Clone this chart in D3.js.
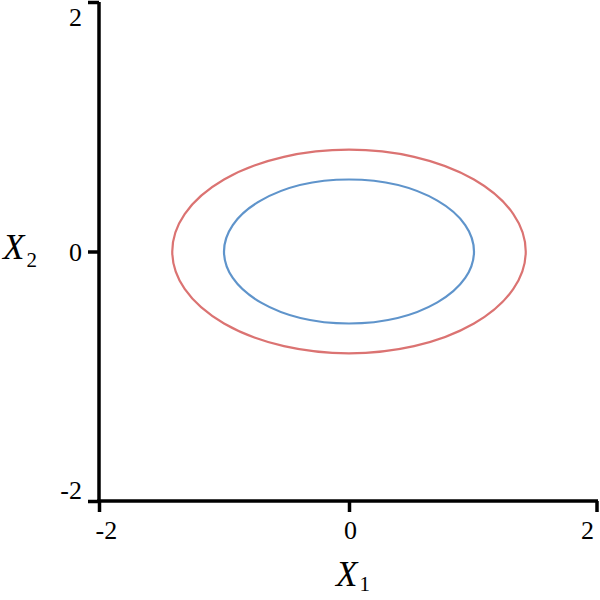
<!DOCTYPE html>
<html>
<head>
<meta charset="utf-8">
<script src="https://cdn.jsdelivr.net/npm/d3@7"></script>
<style>
  body { margin: 0; background: #fff; }
  .axis path, .axis line { stroke: #000; stroke-width: 3.5; }
</style>
</head>
<body>
<div id="chart"></div>
<script>
// contour levels of x1^2 + 3*x2^2 = c, given as the ellipse semi-axes
var levels = [1, 2];
var semiX = [1.0, 1.414];
var semiY = [0.577, 0.816];
var colors = ["#5f94cb", "#db7372"];
var xTicks = [-2, 0, 2];
var yTicks = [-2, 0, 2];

var serif = "'Liberation Serif', 'Times New Roman', serif";
var width = 600, height = 600;

var svg = d3.select("#chart").append("svg")
    .attr("width", width)
    .attr("height", height);

var x = d3.scaleLinear().domain([-2, 2]).range([99, 599]);
var y = d3.scaleLinear().domain([-2, 2]).range([501, 2]);
var fmt = function(d) { return String(d); };

// contours
svg.append("g")
    .selectAll("ellipse")
    .data(levels)
    .enter().append("ellipse")
    .attr("cx", x(0))
    .attr("cy", y(0))
    .attr("rx", function(d, i) { return x(semiX[i]) - x(0); })
    .attr("ry", function(d, i) { return y(0) - y(semiY[i]); })
    .attr("fill", "none")
    .attr("stroke", function(d, i) { return colors[i]; })
    .attr("stroke-width", 2.2);

// x axis
var gx = svg.append("g")
    .attr("class", "axis")
    .attr("transform", "translate(0," + y(-2) + ")")
    .call(d3.axisBottom(x).tickValues(xTicks).tickFormat(fmt).tickSize(11).tickSizeOuter(0));
gx.select(".domain").attr("d", "M" + (x(-2) - 1.75) + ",0H" + (x(2) - 1));
gx.selectAll(".tick").filter(function(d) { return d === 2; })
    .attr("transform", "translate(" + (x(2) - 2) + ",0)");
gx.selectAll(".tick text")
    .attr("font-family", serif)
    .attr("font-size", 26)
    .attr("dy", 0)
    .attr("y", 38)
    .attr("text-anchor", function(d) { return d === -2 ? "start" : (d === 2 ? "end" : "middle"); })
    .attr("x", function(d) { return d === -2 ? -4 : (d === 2 ? -3 : 1); });

// y axis
var gy = svg.append("g")
    .attr("class", "axis")
    .attr("transform", "translate(" + x(-2) + ",0)")
    .call(d3.axisLeft(y).tickValues(yTicks).tickFormat(fmt).tickSize(11).tickSizeOuter(0).tickPadding(6));
gy.select(".domain").attr("d", "M0," + y(2) + "V" + (y(-2) + 1.75));
gy.selectAll(".tick text")
    .attr("font-family", serif)
    .attr("font-size", 26)
    .attr("dy", 0)
    .attr("y", function(d) { return d === 2 ? 23 : (d === -2 ? -3 : 8.5); });

// axis titles
var t1 = svg.append("text").attr("font-family", serif).attr("x", 336).attr("y", 586);
t1.append("tspan").attr("font-style", "italic").attr("font-size", 35).text("X");
t1.append("tspan").attr("font-size", 21).attr("dx", 2).attr("dy", 5).text("1");

var t2 = svg.append("text").attr("font-family", serif).attr("x", 3).attr("y", 259);
t2.append("tspan").attr("font-style", "italic").attr("font-size", 35).text("X");
t2.append("tspan").attr("font-size", 21).attr("dx", 2).attr("dy", 8).text("2");
</script>
</body>
</html>
